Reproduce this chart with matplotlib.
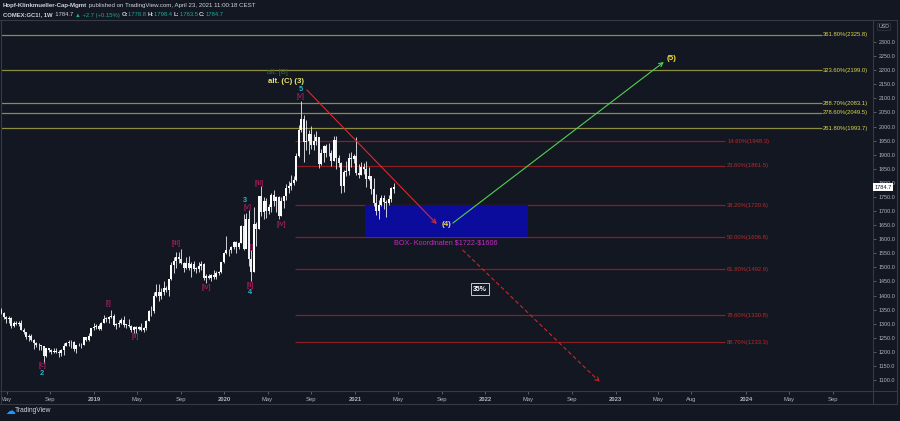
import matplotlib
matplotlib.use("Agg")
import matplotlib.pyplot as plt
import matplotlib.dates as mdates
import numpy as np
import pandas as pd
from matplotlib.lines import Line2D
from matplotlib.patches import Rectangle

# ---------------- data ----------------
first_week = "2018-04-16"
opens = [1347, 1338, 1323, 1315, 1320, 1291, 1303, 1298, 1302, 1278, 1270, 1253, 1255, 1241, 1231, 1223,
         1223, 1219, 1184, 1213, 1206, 1200, 1201, 1201, 1196, 1207, 1222, 1230, 1236, 1234, 1209, 1223,
         1223, 1226, 1252, 1241, 1258, 1283,
         1287, 1291, 1282, 1304, 1318, 1317, 1322, 1329, 1297, 1298, 1302, 1314, 1297, 1295, 1290, 1277,
         1288, 1281, 1287, 1277, 1284, 1311, 1346, 1344, 1400, 1413, 1400, 1412, 1426, 1419, 1457, 1509,
         1523, 1537, 1529, 1515, 1499, 1515, 1497, 1512, 1494, 1494, 1505, 1513, 1462, 1468, 1463, 1472,
         1465, 1481, 1482, 1519,
         1552, 1560, 1560, 1571, 1589, 1573, 1586, 1648, 1566, 1672, 1530, 1484, 1654, 1637, 1752, 1698,
         1735, 1700, 1714, 1756, 1735, 1751, 1683, 1737, 1753, 1781, 1790, 1801, 1810, 1897, 1986, 2028,
         1944, 1947, 1973, 1934, 1947, 1962, 1866, 1907, 1930, 1906, 1905, 1879, 1951, 1889, 1872, 1788,
         1840, 1843, 1889, 1883,
         1895, 1835, 1829, 1856, 1850, 1813, 1823, 1777, 1729, 1700, 1720, 1745, 1733, 1729, 1744, 1778.8]
highs = [1357, 1340, 1326, 1329, 1322, 1308, 1310, 1309, 1314, 1283, 1272, 1263, 1262, 1245, 1236, 1232,
         1226, 1220, 1215, 1215, 1209, 1214, 1214, 1207, 1210, 1233, 1236, 1243, 1241, 1239, 1226, 1230,
         1231, 1254, 1254, 1266, 1284, 1302,
         1299, 1298, 1306, 1331, 1322, 1326, 1349, 1336, 1302, 1312, 1321, 1326, 1300, 1315, 1296, 1291,
         1292, 1293, 1304, 1289, 1313, 1348, 1361, 1412, 1442, 1442, 1427, 1453, 1433, 1460, 1520, 1535,
         1555, 1554, 1566, 1520, 1535, 1542, 1519, 1524, 1500, 1518, 1521, 1516, 1475, 1478, 1475, 1491,
         1486, 1486, 1520, 1555,
         1613, 1564, 1574, 1592, 1592, 1590, 1652, 1691, 1692, 1704, 1561, 1715, 1660, 1753, 1788, 1748,
         1747, 1725, 1765, 1775, 1755, 1753, 1748, 1755, 1797, 1807, 1829, 1826, 1905, 2005, 2089, 2040,
         2024, 1986, 2002, 1975, 1983, 1964, 1921, 1934, 1937, 1940, 1916, 1966, 1965, 1900, 1875, 1847,
         1876, 1906, 1908, 1902,
         1962, 1868, 1875, 1872, 1876, 1855, 1826, 1816, 1760, 1740, 1756, 1757, 1740, 1758, 1785, 1798.4]
lows = [1334, 1316, 1302, 1304, 1285, 1288, 1294, 1291, 1276, 1262, 1246, 1240, 1237, 1211, 1218, 1208,
        1207, 1160, 1182, 1198, 1194, 1196, 1196, 1183, 1185, 1190, 1219, 1221, 1212, 1204, 1196, 1220,
        1213, 1225, 1238, 1240, 1258, 1279,
        1281, 1279, 1276, 1301, 1305, 1302, 1320, 1292, 1281, 1289, 1299, 1288, 1285, 1289, 1270, 1266,
        1267, 1279, 1275, 1270, 1279, 1310, 1327, 1339, 1393, 1381, 1389, 1403, 1412, 1400, 1455, 1480,
        1499, 1517, 1512, 1484, 1494, 1492, 1465, 1487, 1480, 1484, 1490, 1456, 1446, 1457, 1452, 1459,
        1460, 1474, 1480, 1514,
        1546, 1541, 1550, 1565, 1551, 1565, 1585, 1563, 1575, 1506, 1451, 1482, 1576, 1635, 1683, 1670,
        1676, 1689, 1696, 1717, 1697, 1671, 1682, 1710, 1740, 1765, 1776, 1793, 1807, 1893, 1980, 1874,
        1918, 1903, 1920, 1916, 1934, 1851, 1862, 1873, 1891, 1895, 1860, 1876, 1850, 1857, 1764, 1767,
        1823, 1828, 1856, 1871,
        1828, 1817, 1828, 1830, 1785, 1810, 1761, 1717, 1687, 1673, 1719, 1706, 1677, 1721, 1732, 1763.5]
closes = [1338, 1323, 1315, 1320, 1291, 1303, 1298, 1302, 1278, 1270, 1253, 1255, 1241, 1231, 1223, 1223,
          1219, 1184, 1213, 1206, 1200, 1201, 1201, 1196, 1207, 1222, 1230, 1236, 1234, 1209, 1223, 1223,
          1226, 1252, 1241, 1258, 1283, 1287,
          1291, 1282, 1304, 1318, 1317, 1322, 1329, 1297, 1298, 1302, 1314, 1297, 1295, 1290, 1277, 1288,
          1281, 1287, 1277, 1284, 1311, 1346, 1344, 1400, 1413, 1400, 1412, 1426, 1419, 1457, 1509, 1523,
          1537, 1529, 1515, 1499, 1515, 1497, 1512, 1494, 1494, 1505, 1513, 1462, 1468, 1463, 1472, 1465,
          1481, 1482, 1519, 1552,
          1560, 1560, 1571, 1589, 1573, 1586, 1648, 1566, 1672, 1530, 1484, 1654, 1637, 1752, 1698, 1735,
          1700, 1714, 1756, 1735, 1751, 1683, 1737, 1753, 1781, 1790, 1801, 1810, 1897, 1986, 2028, 1944,
          1947, 1973, 1934, 1947, 1962, 1866, 1907, 1930, 1906, 1905, 1879, 1951, 1889, 1872, 1788, 1840,
          1843, 1889, 1883, 1895,
          1835, 1829, 1856, 1850, 1813, 1823, 1777, 1729, 1700, 1720, 1745, 1733, 1729, 1744, 1782, 1784.7]

# Fibonacci extension (yellow) and retracement (red) levels
ext_pcts = ["361.80%", "323.60%", "288.70%", "278.60%", "261.80%"]
ext_levels = [2325.8, 2199.0, 2083.1, 2049.5, 1993.7]
ret_pcts = ["14.60%", "23.60%", "38.20%", "50.00%", "61.80%", "78.60%", "88.70%"]
ret_levels = [1948.3, 1861.5, 1720.6, 1606.8, 1492.9, 1330.8, 1233.3]
ext_span = ("2018-04-10", "2024-07-31")
ret_span = ("2020-07-16", "2023-11-04")

# target box
box_dates = ("2021-01-30", "2022-04-30")
box_prices = (1606, 1722)

# projected paths (date, price)
red_path = [("2020-08-19", 2130), ("2021-08-18", 1654)]
green_path = [("2021-10-02", 1657), ("2023-05-16", 2229)]
dashed_path = [("2021-10-30", 1561), ("2022-11-18", 1093)]

# wave labels: text, date, price, kind
wave_labels = [
    ("[c]", "2018-08-09", 1151, "m"), ("2", "2018-08-09", 1124, "t"),
    ("[i]", "2019-02-11", 1372, "m"), ("[ii]", "2019-04-27", 1253, "m"),
    ("[iii]", "2019-08-20", 1583, "m"), ("[iv]", "2019-11-12", 1428, "m"),
    ("3", "2020-02-28", 1736, "t"), ("[v]", "2020-03-05", 1713, "m"),
    ("[i]", "2020-03-17", 1571, "mh"),
    ("[ii]", "2020-03-14", 1437, "m"), ("4", "2020-03-14", 1409, "t"),
    ("[iii]", "2020-04-06", 1798, "m"), ("[iv]", "2020-06-09", 1653, "m"),
    ("5", "2020-08-01", 2132, "t"), ("[v]", "2020-08-01", 2106, "m"),
]

# axis ticks
y_ticks = list(range(1100, 2301, 50))
x_tick_dates = ["2018-05-01", "2018-09-01", "2019-01-01", "2019-05-01", "2019-09-01", "2020-01-01",
                "2020-05-01", "2020-09-01", "2021-01-01", "2021-05-01", "2021-09-01", "2022-01-01",
                "2022-05-01", "2022-09-01", "2023-01-01", "2023-05-01", "2023-08-01", "2024-01-01",
                "2024-05-01", "2024-09-01"]
x_tick_labels = ["May", "Sep", "2019", "May", "Sep", "2020", "May", "Sep", "2021", "May", "Sep", "2022",
                 "May", "Sep", "2023", "May", "Aug", "2024", "May", "Sep"]

last_price = 1784.7

# ---------------- style ----------------
BG = "#131722"
BORDER = "#363a45"
AXTXT = "#b2b5be"
MAG = "#c8206a"
TEAL = "#28b4cf"
W, H = 900, 421

plt.rcParams["font.family"] = ["Liberation Sans", "DejaVu Sans"]

fig = plt.figure(figsize=(W / 100, H / 100), dpi=100, facecolor=BG)
ax_l, ax_r, ax_t, ax_b = 1, 872.5, 20, 391
ax = fig.add_axes([ax_l / W, 1 - ax_b / H, (ax_r - ax_l) / W, (ax_b - ax_t) / H])
ax.set_facecolor(BG)

d = lambda s: mdates.date2num(pd.Timestamp(s))

dates = pd.date_range(first_week, periods=len(closes), freq="7D")
xd = mdates.date2num(dates)
o = np.array(opens, float); h = np.array(highs, float)
l = np.array(lows, float); c = np.array(closes, float)

ax.set_xlim(d("2018-04-15 14:00"), d("2024-12-20 10:00"))
ax.set_ylim(1061.0, 2378.1)

# fib lines
ax.hlines(ext_levels, d(ext_span[0]), d(ext_span[1]), color="#8e8c40", lw=0.9, zorder=1)
for p, v in zip(ext_pcts, ext_levels):
    ax.text(d("2024-08-04"), v, f"{p}({v:.1f})", color="#d9d64e", fontsize=4.2, va="center",
            ha="left", zorder=5, clip_on=False)
ax.hlines(ret_levels, d(ret_span[0]), d(ret_span[1]), color="#8a1e22", lw=0.9, zorder=1)
for p, v in zip(ret_pcts, ret_levels):
    ax.text(d("2023-11-09"), v, f"{p}({v:.1f})", color="#b82a2a", fontsize=4.2, va="center",
            ha="left", zorder=5)

# box
ax.add_patch(Rectangle((d(box_dates[0]), box_prices[0]), d(box_dates[1]) - d(box_dates[0]),
                       box_prices[1] - box_prices[0], facecolor="#0c0c9c", edgecolor="none", zorder=1.5))
ax.text(d("2021-09-13"), 1585, r"BOX- Koordinaten \$%d-\$%d" % (box_prices[1], box_prices[0]),
        color="#c629c6", fontsize=5.2, ha="center", va="center", zorder=5)

# candles
up = c >= o
body_col = np.where(up, "#ffffff", "#eceef2")
ax.vlines(xd, l, h, color="#dcdee4", lw=0.65, zorder=2.9)
ax.bar(xd, np.maximum(np.abs(c - o), 2.5), bottom=np.minimum(o, c), width=5.4,
       color=body_col, edgecolor="none", zorder=3)

# paths
def arrow(path, color, ls="-", lw=0.8):
    (d0, p0), (d1, p1) = path
    ax.annotate("", xy=(d(d1), p1), xytext=(d(d0), p0),
                arrowprops=dict(arrowstyle="->", color=color, lw=lw, linestyle=ls,
                                shrinkA=0, shrinkB=0, mutation_scale=7), zorder=4)

arrow(red_path, "#e02828")
arrow(green_path, "#52d052")
arrow(dashed_path, "#c82828", ls=(0, (3, 3)))

# wave labels
for txt, dt, pr, kind in wave_labels:
    if kind.startswith("m"):
        ax.text(d(dt), pr, txt, color=MAG, fontsize=5.3, ha="center", va="center",
                zorder=2.5 if kind == "mh" else 5)
    else:
        ax.text(d(dt), pr, txt, color=TEAL, fontsize=5.3, ha="center", va="center",
                fontweight="bold", zorder=5)

ax.text(d("2020-05-29"), 2191, "alt. [B]", color="#3e6a30", fontsize=5.3, ha="center", va="center", zorder=5)
ax.text(d("2020-06-23"), 2159, "alt. (C) (3)", color="#ece96a", fontsize=5.6, ha="center", va="center",
        fontweight="bold", zorder=5)
ax.text(d("2021-09-13"), 1653, "(4)", color="#efe03a", fontsize=5.8, ha="center", va="center",
        fontweight="bold", zorder=5)
ax.text(d("2023-06-07"), 2243, "(5)", color="#efe03a", fontsize=5.8, ha="center", va="center",
        fontweight="bold", zorder=5)
ax.text(d("2021-12-16"), 1423, "35%", color="#ffffff", fontsize=5, ha="center", va="center",
        fontweight="bold", zorder=5,
        bbox=dict(boxstyle="square,pad=0.3", facecolor=BG, edgecolor="#c8c8c8", lw=0.7))

# axes styling
for sp in ax.spines.values():
    sp.set_color(BORDER)
    sp.set_linewidth(0.8)
ax.yaxis.tick_right()
ax.set_yticks(y_ticks)
ax.set_yticklabels([f"{v:.1f}" for v in y_ticks])
ax.tick_params(axis="y", length=2, width=0.5, pad=2.5, labelsize=3.9, colors="#787b86", labelcolor=AXTXT)
ax.set_xticks([d(s) for s in x_tick_dates])
ax.set_xticklabels(x_tick_labels)
for lab, s in zip(ax.get_xticklabels(), x_tick_labels):
    if s.isdigit():
        lab.set_fontweight("bold")
ax.tick_params(axis="x", length=2, width=0.5, pad=2.5, labelsize=4.2, colors="#787b86", labelcolor=AXTXT)

# last price tag
ax.text(1.002, last_price, f"{last_price:.1f}", transform=ax.get_yaxis_transform(), color="#131722",
        fontsize=4.1, ha="left", va="center", zorder=6, clip_on=False,
        bbox=dict(boxstyle="square,pad=0.3", facecolor="#ffffff", edgecolor="none"))

# USD tag
fig.text(884 / W, 1 - 27 / H, "USD", color=AXTXT, fontsize=3.8, ha="center", va="center",
         bbox=dict(boxstyle="round,pad=0.2", facecolor=BG, edgecolor=BORDER, lw=0.5))

# outer frame lines
def fline(x0, y0, x1, y1):
    fig.add_artist(Line2D([x0 / W, x1 / W], [1 - y0 / H, 1 - y1 / H], color=BORDER, lw=0.8))

fline(0, 20, 897, 20)
fline(0, 391, 897, 391)
fline(0, 403.5, 897, 403.5)
fline(896.7, 20, 896.7, 403.5)
fline(1, 391, 1, 403.5)
fline(872.5, 391, 872.5, 403.5)

# header with colored runs
renderer = fig.canvas.get_renderer()

def run(x, y, pieces, size=4.4):
    for s, col, wt in pieces:
        t = fig.text(x / W, 1 - y / H, s, color=col, fontsize=size, fontweight=wt, ha="left", va="center")
        x += t.get_window_extent(renderer=renderer).width

WH = "#d1d4dc"
GR = "#26a69a"
run(3, 6, [("Hopf-Klinkmueller-Cap-Mgmt", WH, "bold"),
           (" published on TradingView.com, April 23, 2021 11:00:18 CEST", WH, "normal")], size=4.4)
run(3, 15, [("COMEX:GC1!, 1W", WH, "bold"), ("  1784.7 ", WH, "normal"), ("▲ +2.7 (+0.15%) ", GR, "normal"),
            ("O:", WH, "bold"), ("1778.8 ", GR, "normal"), ("H:", WH, "bold"), ("1798.4 ", GR, "normal"),
            ("L:", WH, "bold"), ("1763.5 ", GR, "normal"), ("C:", WH, "bold"), ("1784.7", GR, "normal")],
    size=4.2)

# footer logo
fig.text(5 / W, 1 - 411 / H, "☁", color="#2196f3", fontsize=7, ha="left", va="center",
         family=["DejaVu Sans"])
fig.text(15 / W, 1 - 411 / H, "TradingView", color=WH, fontsize=4.8, ha="left", va="center")

fig.savefig("out.png", dpi=100, facecolor=BG)
